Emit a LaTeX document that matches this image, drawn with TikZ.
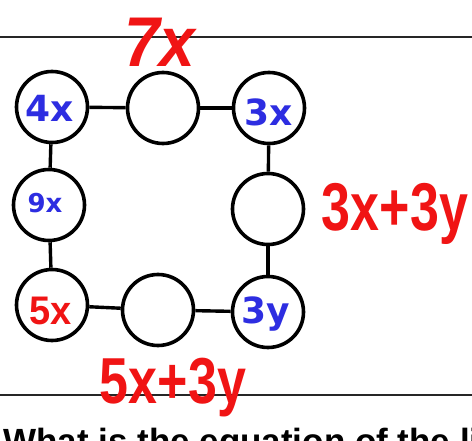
\documentclass[tikz,border=0pt]{standalone}
\usepackage{fontspec}
\setmainfont{DejaVu Sans}
\newfontfamily\handfont{Liberation Sans}
\newfontfamily\qfont{Liberation Sans}
\definecolor{penblue}{RGB}{45,45,225}
\definecolor{penred}{RGB}{240,20,20}
\tikzset{
  ring/.style={circle, draw=black, line width=3.6pt, fill=white, minimum size=71pt, inner sep=0pt},
  bluelab/.style={text=penblue, inner sep=0pt, font=\bfseries\fontsize{36}{36}\selectfont},
  redlab/.style={text=penred, inner sep=0pt},
  link/.style={line width=3.4pt, draw=black},
  rule/.style={line width=2.6pt, draw=black!85}
}
\newcommand{\hand}[3]{{\handfont\bfseries\fontsize{#1}{#1}\selectfont\scalebox{1}[#2]{#3}}}
\begin{document}
\begin{tikzpicture}[x=1pt,y=-1pt]
\clip (0,0) rectangle (472,441);
\fill[white] (0,0) rectangle (472,441);
% rules
\coordinate (tl) at (0,37);
\coordinate (tr) at (472,37);
\coordinate (bl) at (0,395);
\coordinate (br) at (472,395);
\draw[rule] (tl) -- (tr);
\draw[rule] (bl) -- (br);
% circles
\node[ring] (a) at (52,107) {};
\node[ring] (b) at (163,108) {};
\node[ring] (c) at (269,108) {};
\node[ring] (d) at (49,205) {};
\node[ring] (e) at (268,209) {};
\node[ring] (f) at (52,305) {};
\node[ring] (g) at (158,310) {};
\node[ring] (h) at (268,312) {};
% links
\draw[link] (a) -- (b);
\draw[link] (b) -- (c);
\draw[link] (a) -- (d);
\draw[link] (d) -- (f);
\draw[link] (c) -- (e);
\draw[link] (e) -- (h);
\draw[link] (f) -- (g);
\draw[link] (g) -- (h);
% blue labels
\node[bluelab] (la) at (50,108) {4x};
\node[bluelab] (lc) at (269,112) {3x};
\node[bluelab, font=\bfseries\fontsize{26}{26}\selectfont] (ld) at (45,203) {9x};
\node[bluelab] (lh) at (266,314) {3y};
% red annotations
\node[redlab] (r1) at (160,42) {\hand{64}{1.1}{\itshape 7x}};
\node[redlab] (r2) at (395,214) {\hand{52}{1.3}{3x+3y}};
\node[redlab] (r3) at (173,388) {\hand{52}{1.25}{5x+3y}};
\node[redlab] (r4) at (51,311) {\hand{38}{1.05}{5x}};
% question text (cut off as in the reference)
\node[anchor=base west, inner sep=0pt, font=\qfont\bfseries\fontsize{35}{35}\selectfont] (q) at (3,453) {What is the equation of the line};
\end{tikzpicture}
\end{document}
